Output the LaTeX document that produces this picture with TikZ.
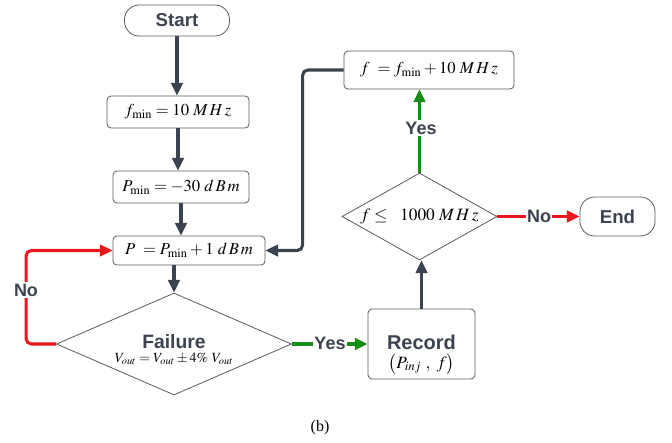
\documentclass[tikz,border=0pt]{standalone}
\usepackage{mathptmx}
\usepackage{fontspec}
\setmainfont{Liberation Serif}
\setsansfont{Liberation Sans}
\usetikzlibrary{shapes.geometric,arrows.meta}
\definecolor{dk}{HTML}{3C4350}
\definecolor{rd}{HTML}{E8191E}
\definecolor{gn}{HTML}{178C17}
\definecolor{bd}{HTML}{5A5A5A}
\tikzset{
 box/.style={draw=bd, line width=0.6pt, rounded corners=3pt, fill=white, inner sep=0pt, font=\fontsize{12.5}{14}\selectfont},
 term/.style={draw=bd, line width=0.6pt, rounded corners=11pt, inner sep=0pt, font=\sffamily\bfseries\fontsize{14}{16}\selectfont, text=dk},
 dia/.style={draw=bd, line width=0.6pt, diamond, inner sep=0pt},
 conn/.style={line width=2.3pt, rounded corners=4pt, -{Triangle[length=9.5pt,width=8.5pt]}},
 lab/.style={fill=white, inner sep=1pt, font=\sffamily\bfseries\fontsize{13.5}{15}\selectfont, text=dk},
 head/.style={inner sep=0pt, font=\sffamily\bfseries\fontsize{14.5}{16}\selectfont, text=dk}
}
\newcommand{\MHzu}{M\,H\,z}
\newcommand{\dBmu}{d\,B\,m}
\begin{document}
\begin{tikzpicture}[x=0.75pt,y=-0.75pt]
\useasboundingbox (0,0) rectangle (672,443);
% nodes
\node[term, minimum width=78.75pt, minimum height=23.25pt] (start) at (177,20.5) {Start};
\node[box, minimum width=106.5pt, minimum height=24pt] (fmin) at (178,112) {$f_{\min} = 10\ \MHzu$};
\node[box, minimum width=102pt, minimum height=24pt] (pmin) at (181,187) {$P_{\min} = -30\ \dBmu$};
\node[box, minimum width=114pt, minimum height=21.75pt] (P) at (189,250.5) {$P\ = P_{\min} + 1\ \dBmu$};
\node[dia, minimum width=176.25pt, minimum height=76.5pt] (fail) at (174,344) {};
\node[head] (failhead) at (174,342) {Failure};
\node[inner sep=0pt, font=\fontsize{10.5}{12}\selectfont] (failsub) at (174,359) {$V_{out} = V_{out} \pm 4\%\ V_{out}$};
\node[box, minimum width=80.25pt, minimum height=52.5pt] (rec) at (421.5,344) {};
\node[head, font=\sffamily\bfseries\fontsize{15}{17}\selectfont] (rechead) at (421.5,342.5) {Record};
\node[inner sep=0pt, font=\fontsize{13}{14}\selectfont] (recsub) at (421.5,364) {$\bigl(P_{inj}\ ,\ f\bigr)$};
\node[dia, aspect=1.78, minimum width=116.25pt, minimum height=65.25pt, font=\fontsize{13}{14}\selectfont] (d2) at (419.5,216.5) {$f \leq\ \ 1000\ \MHzu$};
\node[term, minimum width=56.25pt, minimum height=29.25pt] (end) at (617.5,216.5) {End};
\node[box, minimum width=127.5pt, minimum height=28.5pt] (fbox) at (429,70) {$f\ = f_{\min} + 10\ \MHzu$};
% connectors
\draw[conn,dk] (start.south) -- (start.south |- fmin.north);
\draw[conn,dk] (fmin.south) -- (fmin.south |- pmin.north);
\draw[conn,dk] (pmin.south) -- (pmin.south |- P.north);
\draw[conn,dk] (fail.north |- P.south) -- (fail.north);
\draw[conn,rd] (fail.west) -- ++(-30,0) |- (P.west);
\node[lab] (no1) at (26,290) {No};
\draw[conn,gn] (fail.east) -- (rec.west);
\node[lab] (yes1) at (330,343) {Yes};
\draw[conn,dk] (rec.north) -- (rec.north |- d2.south);
\draw[conn,rd] (d2.east) -- (end.west);
\node[lab] (no2) at (539,216) {No};
\draw[conn,gn] (d2.north) -- (d2.north |- fbox.south);
\node[lab] (yes2) at (421,128) {Yes};
\draw[conn,dk] (fbox.west) -- ++(-41,0) |- (P.east);
\node[font=\fontsize{12}{14}\selectfont] (cap) at (320,428) {(b)};
\end{tikzpicture}
\end{document}
